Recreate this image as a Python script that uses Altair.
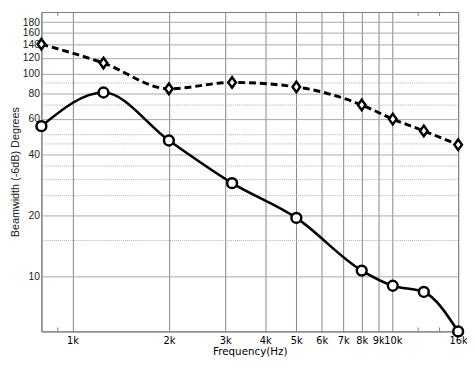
import altair as alt
import pandas as pd

# ---- data ----
freq = [800, 1250, 2000, 3150, 5000, 8000, 10000, 12500, 16000]
solid_vals = [55.1, 80.8, 46.8, 28.8, 19.4, 10.65, 8.96, 8.35, 5.33]
dashed_vals = [140, 113, 84.3, 90.6, 86.1, 70.1, 59.7, 52.2, 44.6]

x_major = [1000, 2000, 3000, 4000, 5000, 6000, 7000, 8000, 9000, 10000, 16000]
x_minor = [900, 12000, 14000]
y_major = [10, 20, 40, 60, 80, 100, 120, 140, 160, 180]
y_dotted = [15, 25, 30, 35, 45, 50, 70, 90]

X_DOMAIN = [800, 16000]
Y_DOMAIN = [5.33, 202]
W, H = 424, 325

df_solid = pd.DataFrame({"f": freq, "bw": solid_vals})
df_dashed = pd.DataFrame({"f": freq, "bw": dashed_vals})
df_dot = pd.DataFrame({"v": y_dotted})
df_minor = pd.DataFrame({"f": x_minor})

xscale = alt.Scale(type="log", domain=X_DOMAIN, nice=False)
yscale = alt.Scale(type="log", domain=Y_DOMAIN, nice=False)

xaxis = alt.Axis(
    values=x_major,
    labelExpr="datum.value/1000 + 'k'",
    grid=True, gridColor="#858585", gridWidth=1,
    ticks=False, domain=True, domainColor="#7a7a7a",
    labelFont="DejaVu Sans", labelFontSize=10, labelColor="black",
    labelPadding=4, labelFlush=False, labelOverlap=False,
    title="Frequency(Hz)", titleFont="DejaVu Sans", titleFontSize=10.5,
    titleFontWeight="normal", titleColor="black", titlePadding=2,
)
yaxis = alt.Axis(
    values=y_major,
    grid=True, gridColor="#a8a8a8", gridWidth=1,
    ticks=False, domain=True, domainColor="#7a7a7a",
    labelFont="Liberation Sans", labelFontSize=10.5, labelColor="#222",
    labelPadding=2, labelFlush=False, labelOverlap=False,
    title="Beamwidth (-6dB) Degrees", titleFont="Liberation Sans", titleFontSize=11,
    titleFontWeight="normal", titleColor="#222", titlePadding=2,
)

base_x = alt.X("f:Q", scale=xscale, axis=xaxis)

# axis layer (carries grid)
axes = alt.Chart(df_solid).mark_point(opacity=0).encode(
    x=base_x, y=alt.Y("bw:Q", scale=yscale, axis=yaxis)
)

dotted = alt.Chart(df_dot).mark_rule(
    color="#b0b0b0", strokeDash=[1, 1], strokeWidth=1
).encode(y=alt.Y("v:Q", scale=yscale))

minor_bottom = alt.Chart(df_minor).mark_rule(color="#7a7a7a").encode(
    x=alt.X("f:Q", scale=xscale), y=alt.value(H - 4), y2=alt.value(H)
)
minor_top = alt.Chart(df_minor).mark_rule(color="#7a7a7a").encode(
    x=alt.X("f:Q", scale=xscale), y=alt.value(0), y2=alt.value(4)
)

dashed_line = alt.Chart(df_dashed).mark_line(
    color="black", strokeWidth=3, strokeDash=[7, 4], interpolate="monotone"
).encode(x=alt.X("f:Q", scale=xscale), y=alt.Y("bw:Q", scale=yscale))

dashed_pts = alt.Chart(df_dashed).mark_point(
    shape="M0,-1L0.72,0L0,1L-0.72,0Z", size=115, filled=True,
    fill="white", stroke="black", strokeWidth=2.5, opacity=1
).encode(x=alt.X("f:Q", scale=xscale), y=alt.Y("bw:Q", scale=yscale))

solid_line = alt.Chart(df_solid).mark_line(
    color="black", strokeWidth=2.6, interpolate="monotone"
).encode(x=alt.X("f:Q", scale=xscale), y=alt.Y("bw:Q", scale=yscale))

solid_pts = alt.Chart(df_solid).mark_point(
    shape="circle", size=100, filled=True,
    fill="white", stroke="black", strokeWidth=2.5, opacity=1
).encode(x=alt.X("f:Q", scale=xscale), y=alt.Y("bw:Q", scale=yscale))

chart = alt.layer(
    axes, dotted, minor_bottom, minor_top,
    dashed_line, solid_line, dashed_pts, solid_pts
).properties(
    width=W, height=H,
    autosize=alt.AutoSizeParams(type="none"),
    padding={"left": 34, "top": 1, "right": 9, "bottom": 24},
    background="white",
).configure_view(stroke="#7a7a7a", strokeWidth=1)

chart.save("out.html", embed_options={"renderer": "svg", "actions": False})
